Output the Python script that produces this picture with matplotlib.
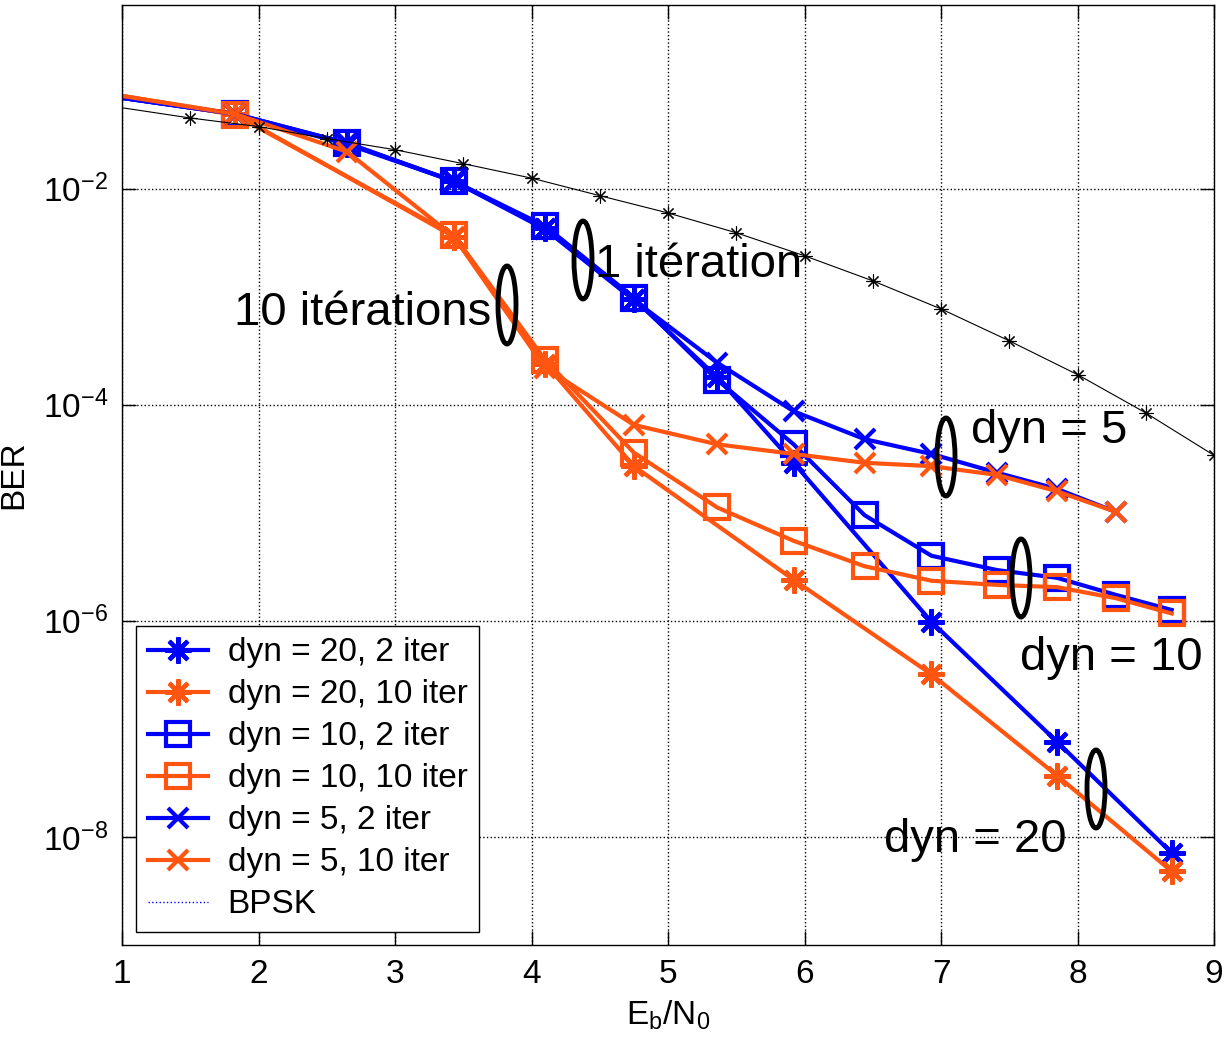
import matplotlib
matplotlib.use('Agg')
import matplotlib.pyplot as plt
from matplotlib.lines import Line2D
from matplotlib.patches import Ellipse
from matplotlib.ticker import NullLocator

plt.rcParams['font.family'] = ['Liberation Sans', 'DejaVu Sans']
plt.rcParams['mathtext.fontset'] = 'custom'
plt.rcParams['mathtext.rm'] = 'Liberation Sans'
plt.rcParams['mathtext.it'] = 'Liberation Sans'

# Data
x_bpsk = [1, 1.5, 2, 2.5, 3, 3.5, 4, 4.5, 5, 5.5, 6, 6.5, 7, 7.5, 8, 8.5, 9]
ber_bpsk = [5.6e-2, 4.5e-2, 3.75e-2, 2.9e-2, 2.29e-2, 1.7e-2, 1.25e-2, 8.6e-3, 5.95e-3,
            3.9e-3, 2.39e-3, 1.4e-3, 7.7e-4, 3.9e-4, 1.9e-4, 8.4e-5, 3.4e-5]

x_d20_2 = [1, 1.83, 2.65, 3.43, 4.1, 4.75, 5.36, 5.92, 6.93, 7.85, 8.69]
ber_d20_2 = [0.069, 0.049, 0.0257, 0.0117, 4.3e-3, 9.5e-4, 1.8e-4, 2.9e-5, 9.8e-7, 7.6e-8, 7.1e-9]

x_d20_10 = [1, 1.83, 3.43, 4.1, 4.75, 5.92, 6.93, 7.85, 8.69]
ber_d20_10 = [0.072, 0.049, 3.6e-3, 2.4e-4, 2.7e-5, 2.4e-6, 3.2e-7, 3.7e-8, 4.8e-9]

x_d10_2 = [1, 1.83, 2.65, 3.43, 4.1, 4.75, 5.36, 5.92, 6.44, 6.93, 7.41, 7.85, 8.28, 8.69]
ber_d10_2 = [0.069, 0.049, 0.0263, 0.0117, 4.5e-3, 9.8e-4, 1.7e-4, 4.3e-5, 9.5e-6, 4.0e-6,
             2.95e-6, 2.5e-6, 1.74e-6, 1.26e-6]

x_d10_10 = [1, 1.83, 3.43, 4.1, 4.75, 5.36, 5.92, 6.44, 6.93, 7.41, 7.85, 8.28, 8.69]
ber_d10_10 = [0.072, 0.048, 3.7e-3, 2.6e-4, 3.6e-5, 1.12e-5, 5.5e-6, 3.2e-6, 2.35e-6,
              2.15e-6, 2.05e-6, 1.62e-6, 1.17e-6]

x_d5_2 = [1, 1.83, 2.65, 3.43, 4.1, 4.75, 5.36, 5.92, 6.44, 6.93, 7.41, 7.85, 8.28]
ber_d5_2 = [0.069, 0.049, 0.0263, 0.0117, 4.2e-3, 9.3e-4, 2.45e-4, 8.7e-5, 4.8e-5, 3.5e-5,
            2.35e-5, 1.66e-5, 1.02e-5]

x_d5_10 = [1, 1.83, 2.65, 3.43, 4.1, 4.75, 5.36, 5.92, 6.44, 6.93, 7.41, 7.85, 8.28]
ber_d5_10 = [0.072, 0.049, 0.0219, 3.6e-3, 2.2e-4, 6.5e-5, 4.3e-5, 3.5e-5, 2.9e-5, 2.7e-5,
             2.24e-5, 1.58e-5, 1.02e-5]

labels = ['dyn = 20, 2 iter', 'dyn = 20, 10 iter', 'dyn = 10, 2 iter', 'dyn = 10, 10 iter',
          'dyn = 5, 2 iter', 'dyn = 5, 10 iter', 'BPSK']

blue = '#0000ff'
orange = '#ff5511'
ast = (8, 2, 0)
skip0 = slice(1, None)  # no marker on the first (edge) point

fig = plt.figure(figsize=(12.3, 10.48), dpi=100)
ax = fig.add_axes([122 / 1230, 103 / 1048, 1092 / 1230, 940 / 1048])

h = []
h += ax.plot(x_d20_2, ber_d20_2, color=blue, lw=3, marker=ast, ms=19, mew=3, markevery=skip0)
h += ax.plot(x_d20_10, ber_d20_10, color=orange, lw=3, marker=ast, ms=19, mew=3, markevery=skip0)
h += ax.plot(x_d10_2, ber_d10_2, color=blue, lw=3, marker='s', ms=17, mew=3, mfc='none',
             markevery=skip0)
h += ax.plot(x_d10_10, ber_d10_10, color=orange, lw=3, marker='s', ms=17, mew=3, mfc='none',
             markevery=skip0)
h += ax.plot(x_d5_2, ber_d5_2, color=blue, lw=3, marker='x', ms=15, mew=3, markevery=skip0)
h += ax.plot(x_d5_10, ber_d5_10, color=orange, lw=3, marker='x', ms=15, mew=3, markevery=skip0)
ax.plot(x_bpsk, ber_bpsk, color='black', lw=0.8, marker=ast, ms=10, mew=0.8, markevery=skip0)
h.append(Line2D([], [], color=blue, lw=1, ls=':'))

ax.set_yscale('log')
ax.set_xlim(1, 9)
ax.set_ylim(1e-9, 0.5)
ax.set_xticks(range(1, 10))
ax.set_yticks([1e-8, 1e-6, 1e-4, 1e-2])
ax.set_yticklabels([r'$\mathregular{10^{-8}}$', r'$\mathregular{10^{-6}}$',
                    r'$\mathregular{10^{-4}}$', r'$\mathregular{10^{-2}}$'])
ax.yaxis.set_minor_locator(NullLocator())
ax.tick_params(direction='in', length=10, width=1, top=True, right=True, labelsize=24, pad=10)
ax.grid(True, which='major', color='black', ls=':', lw=1)
for s in ax.spines.values():
    s.set_linewidth(1)

ax.set_xlabel(r'E$_\mathregular{b}$/N$_\mathregular{0}$', fontsize=24, labelpad=6)
ax.set_ylabel('BER', fontsize=24, labelpad=10)

leg = ax.legend(h, labels, loc='lower left', bbox_to_anchor=(0.0128, 0.0138), borderaxespad=0,
                fontsize=24, numpoints=1, handlelength=1.8, handletextpad=0.6,
                labelspacing=0.33, fancybox=False, edgecolor='black', framealpha=1,
                borderpad=0.35)
leg.get_frame().set_linewidth(1)

# annotations, positions in pixels of the axes box
def fx(px):
    return (px - 122) / 1092


def fy(py):
    return (945 - py) / 940


ellipses = [(583, 260), (507, 305), (946, 457), (1021, 578), (1096, 789)]
for cx, cy in ellipses:
    ax.add_patch(Ellipse((fx(cx), fy(cy)), 18 / 1092, 78 / 940, transform=ax.transAxes,
                         fill=False, ec='black', lw=3.5, zorder=5))

notes = [('1 itération', 595, 277), ('10 itérations', 234, 325), ('dyn = 5', 971, 443),
         ('dyn = 10', 1020, 670), ('dyn = 20', 884, 852)]
for txt, px, py in notes:
    ax.text(fx(px), fy(py), txt, transform=ax.transAxes, fontsize=34, va='baseline',
            ha='left', zorder=6)

fig.savefig('out.png', dpi=100)
